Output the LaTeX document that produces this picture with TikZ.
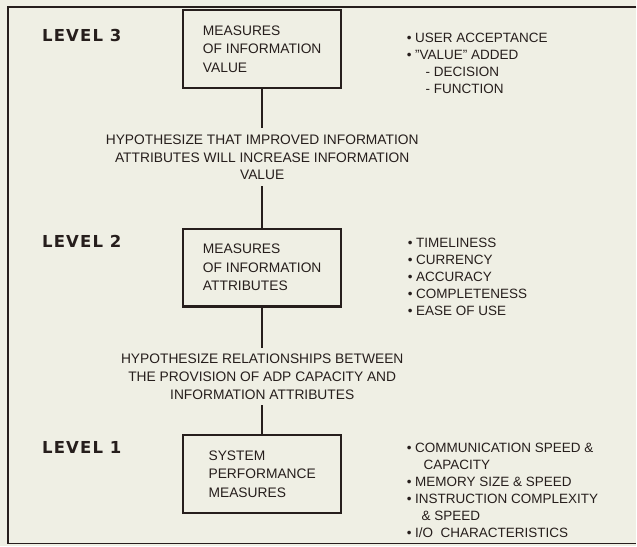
\documentclass[tikz,border=0pt]{standalone}
\usepackage{fontspec}
\setmainfont{Liberation Sans}
\newfontfamily\levelfont{DejaVu Sans}[LetterSpace=7]
\usepackage{xcolor}

\definecolor{paper}{RGB}{239,239,228}
\definecolor{ink}{RGB}{38,30,28}

\tikzset{
  measbox/.style={draw=ink, line width=2.4pt, minimum width=158pt, minimum height=78pt,
    align=left, inner sep=0pt, text=ink, font=\fontsize{13.8}{18.5}\selectfont},
  hyptext/.style={align=center, inner sep=6pt, text=ink, font=\fontsize{13.8}{17.8}\selectfont},
  levellabel/.style={anchor=base west, inner sep=0pt, text=ink,
    font=\levelfont\bfseries\fontsize{16.5}{18}\selectfont},
  attrlist/.style={anchor=north west, align=left, inner sep=0pt, text=ink,
    font=\fontsize{13.5}{17}\selectfont},
  link/.style={draw=ink, line width=1.5pt}
}

\begin{document}
\begin{tikzpicture}[x=1pt,y=-1pt]

% Paper and frame
\fill[paper] (0,0) rectangle (637,547);
\draw[ink, line width=1.4pt] (637,7) -- (8,7) -- (8,544) -- (637,544);

% Level labels
\node[levellabel] (lev3) at (42, 42) {LEVEL 3};
\node[levellabel] (lev2) at (42,248) {LEVEL 2};
\node[levellabel] (lev1) at (42,454) {LEVEL 1};

% Measure boxes
\node[measbox] (box3) at (262.5, 49.0) {MEASURES\\OF INFORMATION\\VALUE};
\node[measbox] (box2) at (262.5,268.0) {MEASURES\\OF INFORMATION\\ATTRIBUTES};
\node[measbox] (box1) at (262.5,474.5) {SYSTEM\\PERFORMANCE\\MEASURES};

% Hypotheses between the levels
\node[hyptext] (hyp32) at (262.5,157.5)
  {HYPOTHESIZE THAT IMPROVED INFORMATION\\ATTRIBUTES WILL INCREASE INFORMATION\\VALUE};
\node[hyptext] (hyp21) at (262.5,377.0)
  {HYPOTHESIZE RELATIONSHIPS BETWEEN\\THE PROVISION OF ADP CAPACITY AND\\INFORMATION ATTRIBUTES};

% Connectors
\draw[link] (box3.south) -- (hyp32.north);
\draw[link] (hyp32.south) -- (box2.north);
\draw[link] (box2.south) -- (hyp21.north);
\draw[link] (hyp21.south) -- (box1.north);

% Attribute lists
\node[attrlist] (list3) at (407, 33.2)
  {\textbullet\ USER ACCEPTANCE\\
   \textbullet\ "VALUE" ADDED\\
   \hspace*{19pt}- DECISION\\
   \hspace*{19pt}- FUNCTION};
\node[attrlist] (list2) at (408,238.2)
  {\textbullet\ TIMELINESS\\
   \textbullet\ CURRENCY\\
   \textbullet\ ACCURACY\\
   \textbullet\ COMPLETENESS\\
   \textbullet\ EASE OF USE};
\node[attrlist] (list1) at (407,443.2)
  {\textbullet\ COMMUNICATION SPEED \&\\
   \hspace*{17pt}CAPACITY\\
   \textbullet\ MEMORY SIZE \& SPEED\\
   \textbullet\ INSTRUCTION COMPLEXITY\\
   \hspace*{15pt}\& SPEED\\
   \textbullet\ I/O\ \ CHARACTERISTICS};

\end{tikzpicture}
\end{document}
